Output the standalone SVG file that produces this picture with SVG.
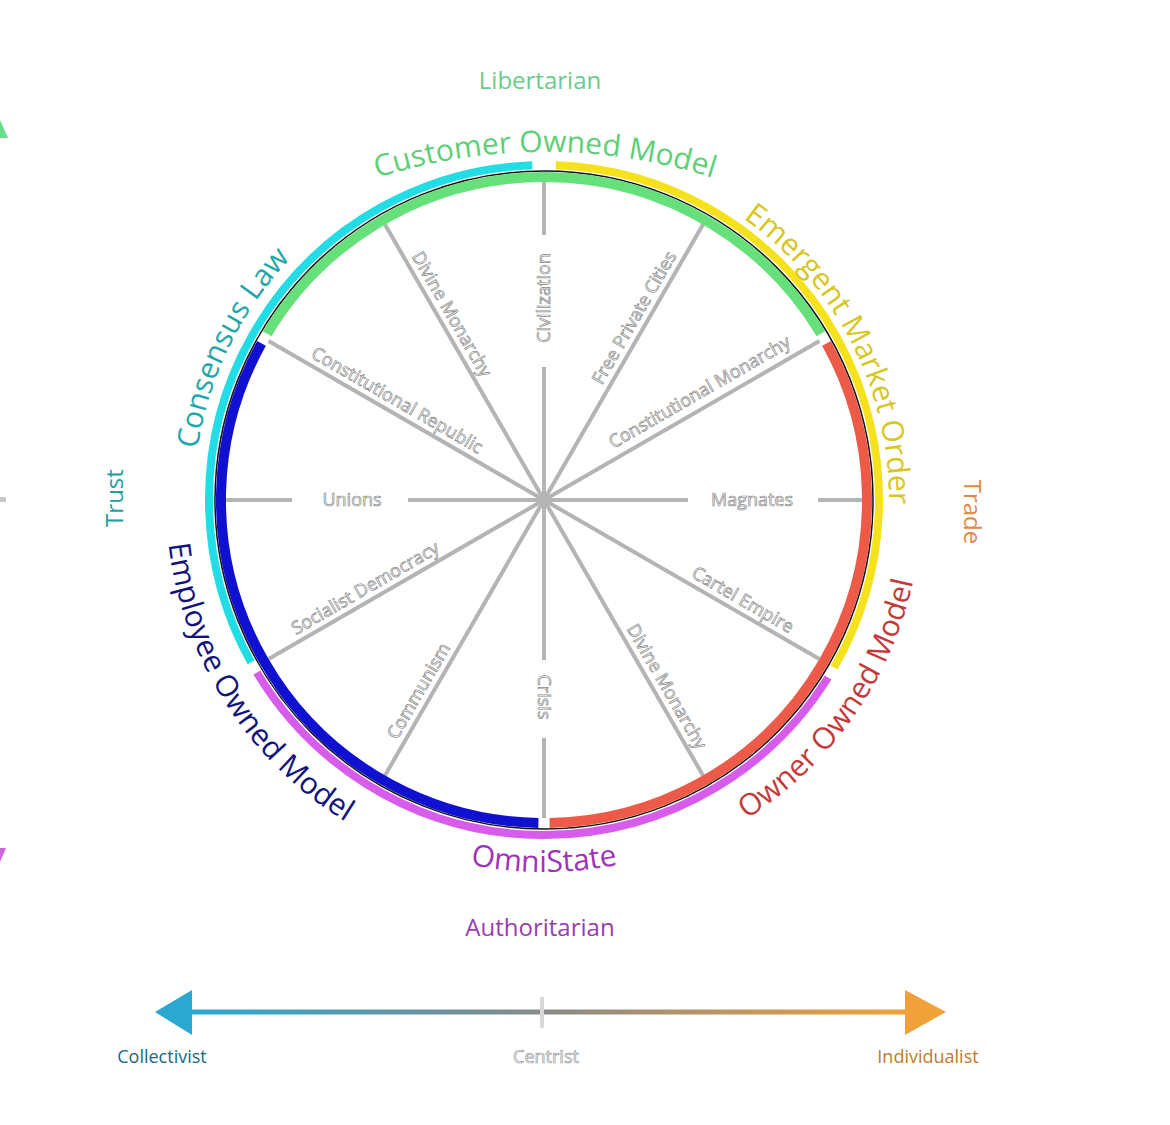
<svg xmlns="http://www.w3.org/2000/svg" width="1170" height="1125" viewBox="0 0 1170 1125">
<style>
.spoke{stroke:#b4b4b4;stroke-width:4;fill:none}
.sl{font-family:"Open Sans","Liberation Sans",sans-serif;font-size:18px;fill:#fff;stroke:#8a8a8a;stroke-width:0.7;text-anchor:middle}
.big{font-family:"Open Sans","Liberation Sans",sans-serif;font-size:30px;text-anchor:middle}
.axis{font-family:"Open Sans","Liberation Sans",sans-serif;font-size:24px;text-anchor:middle}
.ring{fill:none;stroke-width:10}
.oring{fill:none;stroke-width:8}
</style>
<defs>
<linearGradient id="g" gradientUnits="userSpaceOnUse" x1="190" y1="0" x2="905" y2="0">
<stop offset="0" stop-color="#2aa8d0"/><stop offset="0.5" stop-color="#8a8a88"/><stop offset="1" stop-color="#f0a23a"/>
</linearGradient>
<path id="pTop" d="M245 240 A555 555 0 0 1 845 240"/>
<path id="pCons" d="M215.1 619.7 A350 350 0 0 1 435.8 167.1"/>
<path id="pEmer" d="M621.6 163.8 A345 345 0 0 1 861.6 634.8"/>
<path id="pOmni" d="M259 739.1 A372 372 0 0 0 829 739.1"/>
<path id="pEmp" d="M188.8 370.7 A378 378 0 0 0 511.1 876.6"/>
<path id="pOwn" d="M577 876.6 A378 378 0 0 0 909.1 402.2"/>
</defs>
<rect width="1170" height="1125" fill="#fff"/>
<polygon points="0,120 8,138 0,138" fill="#66dd88"/>
<rect x="0" y="497" width="6" height="5" fill="#c8c8c8"/>
<polygon points="0,848 6,848 0,862" fill="#cc66dd"/>

<g id="connectors">
<line class="spoke" x1="544" y1="500" x2="688" y2="500"/><line class="spoke" x1="818" y1="500" x2="862" y2="500"/>
<line class="spoke" x1="544" y1="500" x2="408" y2="500"/><line class="spoke" x1="292" y1="500" x2="226" y2="500"/>
<line class="spoke" x1="544" y1="500" x2="544" y2="367"/><line class="spoke" x1="544" y1="235" x2="544" y2="182"/>
<line class="spoke" x1="544" y1="500" x2="544" y2="660"/><line class="spoke" x1="544" y1="738" x2="544" y2="818"/>
<line class="spoke" x1="544" y1="500" x2="819.4" y2="659"/>
<line class="spoke" x1="544" y1="500" x2="703" y2="775.4"/>
<line class="spoke" x1="544" y1="500" x2="385" y2="775.4"/>
<line class="spoke" x1="544" y1="500" x2="268.6" y2="659"/>
<line class="spoke" x1="544" y1="500" x2="268.6" y2="341"/>
<line class="spoke" x1="544" y1="500" x2="385" y2="224.6"/>
<line class="spoke" x1="544" y1="500" x2="703" y2="224.6"/>
<line class="spoke" x1="544" y1="500" x2="819.4" y2="341"/>
<line x1="188" y1="1012" x2="907" y2="1012" stroke="url(#g)" stroke-width="5"/>
<polygon points="155,1012 192,990 192,1035" fill="#2aa8d0"/>
<polygon points="946,1012 905,990 905,1035" fill="#f0a23a"/>
<line x1="542" y1="997" x2="542" y2="1028" stroke="#d8d8d8" stroke-width="4"/>
</g>

<g id="rings">
<circle cx="544" cy="500" r="329" fill="none" stroke="#111" stroke-width="1.5"/>
<path class="ring" stroke="#66e07a" d="M267.1 333.7 A323 323 0 0 1 820.9 333.7"/>
<path class="ring" stroke="#ee5a48" d="M826.5 343.4 A323 323 0 0 1 549.6 823"/>
<path class="ring" stroke="#1010d0" d="M538.4 823 A323 323 0 0 1 261.5 343.4"/>
<path class="oring" stroke="#22dde6" d="M251 662.4 A335 335 0 0 1 532.3 165.2"/>
<path class="oring" stroke="#f6e21c" d="M555.7 165.2 A335 335 0 0 1 834.1 667.5"/>
<path class="oring" stroke="#d85ceb" d="M828.1 677.5 A335 335 0 0 1 256.8 672.5"/>
</g>

<g id="spoke-labels">
<text class="sl" x="752" y="506">Magnates</text>
<text class="sl" x="352" y="506">Unions</text>
<text class="sl" transform="translate(544,298) rotate(-90)" y="6">Civilization</text>
<text class="sl" transform="translate(544,697) rotate(90)" y="6">Crisis</text>
<text class="sl" transform="translate(390.7,411.5) rotate(30)" y="-7">Constitutional Republic</text>
<text class="sl" transform="translate(440.5,320.7) rotate(60)" y="-7">Divine Monarchy</text>
<text class="sl" transform="translate(645.5,324.2) rotate(-60)" y="-7">Free Private Cities</text>
<text class="sl" transform="translate(706,403.5) rotate(-30)" y="-7">Constitutional Monarchy</text>
<text class="sl" transform="translate(736.3,611) rotate(30)" y="-7">Cartel Empire</text>
<text class="sl" transform="translate(655.5,693.1) rotate(60)" y="-7">Divine Monarchy</text>
<text class="sl" transform="translate(430,697.5) rotate(-60)" y="-7">Communism</text>
<text class="sl" transform="translate(371.7,599.5) rotate(-30)" y="-7">Socialist Democracy</text>
</g>

<g id="node-customer"><text class="big" fill="#5ccf78"><textPath href="#pTop" startOffset="50%">Customer Owned Model</textPath></text></g>
<g id="node-consensus"><text class="big" fill="#1fa8aa"><textPath href="#pCons" startOffset="50%">Consensus Law</textPath></text></g>
<g id="node-emergent"><text class="big" fill="#d8c61e"><textPath href="#pEmer" startOffset="50%">Emergent Market Order</textPath></text></g>
<g id="node-omni"><text class="big" fill="#a034b8"><textPath href="#pOmni" startOffset="50%">OmniState</textPath></text></g>
<g id="node-employee"><text class="big" fill="#12127e"><textPath href="#pEmp" startOffset="50%">Employee Owned Model</textPath></text></g>
<g id="node-owner"><text class="big" fill="#c43a3a"><textPath href="#pOwn" startOffset="50%">Owner Owned Model</textPath></text></g>

<g id="axis-labels">
<text class="axis" x="540" y="89" fill="#6acb8a">Libertarian</text>
<text class="axis" x="540" y="936" fill="#9a3cb0">Authoritarian</text>
<text class="axis" transform="translate(123,498) rotate(-90)" fill="#20a0a0">Trust</text>
<text class="axis" transform="translate(964,512) rotate(90)" fill="#e08a40">Trade</text>
<text x="162" y="1063" font-family="Open Sans, Liberation Sans, sans-serif" font-size="18" text-anchor="middle" fill="#1a6a7a">Collectivist</text>
<text x="546" y="1063" font-family="Open Sans, Liberation Sans, sans-serif" font-size="18" text-anchor="middle" fill="#fff" stroke="#999" stroke-width="0.7">Centrist</text>
<text x="928" y="1063" font-family="Open Sans, Liberation Sans, sans-serif" font-size="18" text-anchor="middle" fill="#c07a30">Individualist</text>
</g>
</svg>
